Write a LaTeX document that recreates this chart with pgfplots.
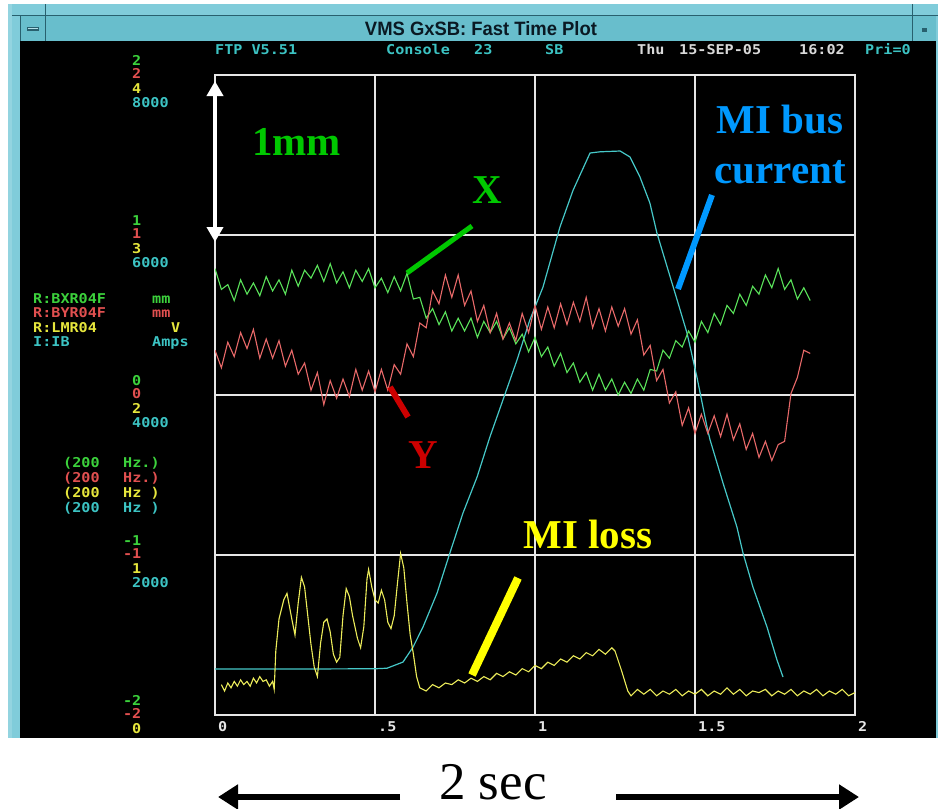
\documentclass[border=0pt]{standalone}
\usepackage{fontspec}
\usepackage{graphicx}
\usepackage{pgfplots}
\pgfplotsset{compat=1.18}
\usepackage{pgfplotstable}
\usetikzlibrary{arrows.meta}
\setmainfont{Liberation Serif}
\newfontfamily\pixfont[FakeStretch=1.12, UprightFont=* Bold]{DejaVu Sans Mono}
\newfontfamily\titlefont{Liberation Sans}

\definecolor{frame}{RGB}{128,204,218}
\definecolor{tbar}{RGB}{104,190,204}
\definecolor{tline}{RGB}{40,96,110}
\definecolor{trG}{RGB}{90,226,90}
\definecolor{trR}{RGB}{232,105,105}
\definecolor{trY}{RGB}{236,236,90}
\definecolor{trC}{RGB}{70,200,200}
\definecolor{lbG}{RGB}{60,210,60}
\definecolor{lbR}{RGB}{225,80,80}
\definecolor{lbY}{RGB}{230,230,60}
\definecolor{lbC}{RGB}{60,195,195}
\definecolor{annG}{RGB}{0,200,0}
\definecolor{annB}{RGB}{0,153,255}
\definecolor{annR}{RGB}{204,0,0}
\definecolor{annY}{RGB}{255,255,0}
\definecolor{gridc}{RGB}{230,230,230}

\newcommand{\pixsize}{\fontsize{13.5}{14}\selectfont\pixfont}

% I:IB current, Amps
\pgfplotstableread{
x y
0 575
0.25 575
0.5 578
0.5375 585
0.5875 662
0.619 850
0.65 1100
0.694 1525
0.734 2025
0.775 2525
0.819 2975
0.859 3475
0.9 3940
0.944 4440
0.984 4940
1.025 5350
1.078 6100
1.119 6560
1.172 7025
1.203 7040
1.266 7050
1.297 6975
1.328 6725
1.359 6400
1.381 6025
1.413 5600
1.444 5190
1.475 4775
1.506 4225
1.5375 3600
1.547 3440
1.5875 2900
1.631 2350
1.65 2025
1.681 1600
1.725 1100
1.756 690
1.775 475
}\tabC

% R:BXR04F horizontal position, mm
\pgfplotstableread{
x y
0.00 0.79
0.02 0.66
0.04 0.69
0.06 0.59
0.08 0.72
0.10 0.63
0.12 0.70
0.14 0.62
0.16 0.74
0.18 0.65
0.20 0.72
0.22 0.63
0.24 0.78
0.26 0.68
0.28 0.78
0.30 0.73
0.32 0.81
0.34 0.71
0.36 0.82
0.38 0.70
0.40 0.77
0.42 0.67
0.44 0.78
0.46 0.71
0.48 0.79
0.50 0.67
0.52 0.73
0.54 0.64
0.56 0.74
0.58 0.65
0.60 0.76
0.62 0.60
0.64 0.61
0.66 0.48
0.68 0.54
0.70 0.44
0.72 0.52
0.74 0.40
0.76 0.48
0.78 0.40
0.80 0.48
0.82 0.36
0.84 0.46
0.86 0.39
0.88 0.46
0.90 0.35
0.92 0.42
0.94 0.32
0.96 0.38
0.98 0.27
1.00 0.36
1.02 0.24
1.04 0.30
1.06 0.18
1.08 0.26
1.10 0.14
1.12 0.20
1.14 0.08
1.16 0.14
1.18 0.03
1.20 0.13
1.22 0.03
1.24 0.10
1.26 0.00
1.28 0.08
1.30 0.01
1.32 0.10
1.34 0.03
1.36 0.16
1.38 0.15
1.40 0.28
1.42 0.23
1.44 0.34
1.46 0.30
1.48 0.40
1.50 0.33
1.52 0.46
1.54 0.39
1.56 0.51
1.58 0.44
1.60 0.56
1.62 0.51
1.64 0.63
1.66 0.56
1.68 0.68
1.70 0.63
1.72 0.75
1.74 0.67
1.76 0.79
1.78 0.66
1.80 0.72
1.82 0.60
1.84 0.67
1.86 0.59
}\tabG

% R:BYR04F vertical position, mm
\pgfplotstableread{
x y
0.00 0.28
0.02 0.17
0.04 0.33
0.06 0.24
0.08 0.39
0.10 0.29
0.12 0.41
0.14 0.23
0.16 0.35
0.18 0.23
0.20 0.34
0.22 0.18
0.24 0.28
0.26 0.13
0.28 0.20
0.30 0.03
0.32 0.14
0.34 -0.06
0.36 0.09
0.38 -0.02
0.40 0.10
0.42 -0.01
0.44 0.16
0.46 0.03
0.48 0.15
0.50 0.02
0.52 0.16
0.54 0.03
0.56 0.19
0.58 0.13
0.60 0.32
0.62 0.24
0.64 0.45
0.66 0.42
0.68 0.65
0.70 0.57
0.72 0.75
0.74 0.61
0.76 0.75
0.78 0.56
0.80 0.65
0.82 0.46
0.84 0.56
0.86 0.39
0.88 0.51
0.90 0.35
0.92 0.45
0.94 0.34
0.96 0.51
0.98 0.39
1.00 0.56
1.02 0.41
1.04 0.55
1.06 0.42
1.08 0.57
1.10 0.44
1.12 0.58
1.14 0.46
1.16 0.61
1.18 0.42
1.20 0.54
1.22 0.40
1.24 0.55
1.26 0.43
1.28 0.54
1.30 0.38
1.32 0.47
1.34 0.25
1.36 0.31
1.38 0.09
1.40 0.16
1.42 -0.05
1.44 0.02
1.46 -0.19
1.48 -0.08
1.50 -0.24
1.52 -0.12
1.54 -0.24
1.56 -0.13
1.58 -0.26
1.60 -0.12
1.62 -0.28
1.64 -0.18
1.66 -0.34
1.68 -0.24
1.70 -0.39
1.72 -0.29
1.74 -0.41
1.76 -0.31
1.78 -0.29
1.80 0.01
1.82 0.11
1.84 0.28
1.86 0.26
}\tabR

% R:LMR04 loss monitor, V
\pgfplotstableread{
x y
0.02 0.19
0.03 0.15
0.04 0.20
0.05 0.17
0.06 0.21
0.07 0.18
0.08 0.22
0.09 0.19
0.10 0.21
0.11 0.18
0.12 0.23
0.13 0.20
0.14 0.24
0.15 0.21
0.16 0.22
0.17 0.18
0.18 0.21
0.185 0.16
0.19 0.40
0.20 0.60
0.215 0.72
0.225 0.76
0.24 0.60
0.25 0.50
0.26 0.70
0.27 0.86
0.28 0.80
0.29 0.62
0.30 0.44
0.31 0.30
0.32 0.24
0.33 0.45
0.34 0.58
0.35 0.60
0.36 0.52
0.37 0.38
0.38 0.33
0.39 0.36
0.40 0.62
0.41 0.79
0.42 0.74
0.43 0.62
0.445 0.48
0.455 0.42
0.465 0.55
0.475 0.85
0.48 0.91
0.49 0.80
0.50 0.72
0.51 0.70
0.52 0.78
0.53 0.72
0.54 0.58
0.55 0.54
0.56 0.62
0.57 0.82
0.58 1.01
0.59 0.92
0.60 0.70
0.61 0.50
0.62 0.38
0.63 0.24
0.64 0.17
0.66 0.15
0.68 0.19
0.70 0.17
0.72 0.20
0.74 0.19
0.76 0.22
0.78 0.20
0.80 0.23
0.82 0.21
0.84 0.24
0.86 0.22
0.88 0.26
0.90 0.24
0.92 0.27
0.94 0.25
0.96 0.29
0.98 0.27
1.00 0.31
1.02 0.29
1.04 0.33
1.06 0.31
1.08 0.35
1.10 0.33
1.12 0.37
1.14 0.35
1.16 0.39
1.18 0.37
1.20 0.41
1.22 0.38
1.24 0.42
1.25 0.40
1.27 0.28
1.29 0.15
1.30 0.12
1.32 0.16
1.34 0.13
1.36 0.16
1.38 0.12
1.40 0.15
1.42 0.13
1.44 0.16
1.46 0.12
1.48 0.15
1.50 0.13
1.52 0.16
1.54 0.12
1.56 0.15
1.58 0.13
1.60 0.17
1.62 0.13
1.64 0.16
1.66 0.12
1.68 0.15
1.70 0.14
1.72 0.16
1.74 0.12
1.76 0.15
1.78 0.13
1.80 0.16
1.82 0.12
1.84 0.15
1.86 0.13
1.88 0.16
1.90 0.12
1.92 0.15
1.94 0.13
1.96 0.16
1.98 0.12
2.00 0.14
}\tabY

\pgfplotsset{
  ftp/.style={
    at={(215pt,-715pt)}, anchor=south west,
    width=640pt, height=640pt, scale only axis,
    xmin=0, xmax=2, clip=true,
    tick style={draw=none},
    yticklabel style={font=\pixsize, anchor=base west, inner sep=0pt, xshift=-83pt},
  },
  hid/.style={ftp, axis line style={draw=none}, xtick=\empty},
}

\begin{document}
\begin{tikzpicture}
\begin{scope}[x=1pt,y=-1pt]
  \fill[white] (0,0) rectangle (938,809);
  \fill[frame] (8,4) rectangle (938,738);
  \fill[frame!85!white] (8,4) rectangle (12,738);
  \fill[tbar] (20,16) rectangle (936,41);
  \draw[tline, line width=1pt] (12,15.5) -- (938,15.5);
  \draw[tline, line width=1pt] (45,4) -- (45,41);
  \draw[tline, line width=1pt] (912,4) -- (912,41);
  \draw[tline, line width=1pt] (20,15.5) -- (20,41);
  \fill[tline] (27,27) rectangle (39,31);
  \fill[frame!60!white] (28,27.5) rectangle (38,29);
  \fill[tline] (922,28) rectangle (927,32);
  \fill[black] (20,41) rectangle (936,738);
  % window title
  \node[anchor=base, inner sep=0pt, text={rgb,255:red,10;green,25;blue,35}] at (481,35)
    {\resizebox{232pt}{14pt}{\titlefont\bfseries VMS GxSB: Fast Time Plot}};
  % header line
  \begin{scope}[every node/.style={anchor=base west, inner sep=0pt, font=\pixsize}]
    \node[text=lbC] at (215,54) {FTP V5.51};
    \node[text=lbC] at (386,54) {Console};
    \node[text=lbC] at (474,54) {23};
    \node[text=lbC] at (545,54) {SB};
    \node[text=white!85!black] at (637,54) {Thu};
    \node[text=white!85!black] at (679,54) {15-SEP-05};
    \node[text=white!85!black] at (799,54) {16:02};
    \node[text=lbC] at (865,54) {Pri=0};
    % channel list
    \node[text=lbG] at (33,303) {R:BXR04F};
    \node[text=lbG] at (152,303) {mm};
    \node[text=lbR] at (33,317.5) {R:BYR04F};
    \node[text=lbR] at (152,317.5) {mm};
    \node[text=lbY] at (33,332) {R:LMR04};
    \node[text=lbY] at (171,332) {V};
    \node[text=lbC] at (33,346.5) {I:IB};
    \node[text=lbC] at (152,346.5) {Amps};
    % sample rates
    \node[text=lbG] at (63,467) {(200};
    \node[text=lbG] at (123,467) {Hz.)};
    \node[text=lbR] at (63,482) {(200};
    \node[text=lbR] at (123,482) {Hz.)};
    \node[text=lbY] at (63,497) {(200};
    \node[text=lbY] at (123,497) {Hz\ )};
    \node[text=lbC] at (63,512) {(200};
    \node[text=lbC] at (123,512) {Hz\ )};
  \end{scope}
\end{scope}

% grid, time axis and bus current
\begin{axis}[ftp,
  ymin=0, ymax=8000,
  xtick={0,0.5,1,1.5,2}, xticklabels={0,.5,1,1.5,2},
  xticklabel style={font=\pixsize, text=white!90!black, anchor=base west, inner sep=0pt, xshift=3pt, yshift=-16pt},
  ytick={0,2000,4000,6000,8000}, yticklabels={,2000,4000,6000,8000},
  yticklabel style={text=lbC, yshift=-32pt},
  grid=major, major grid style={gridc, line width=1.4pt},
  axis line style={gridc, line width=1.4pt},
]
  \addplot[trC, line width=1.2pt] table[x=x, y=y] {\tabC};
\end{axis}

% horizontal position
\begin{axis}[hid, ymin=-2, ymax=2,
  ytick={-2,-1,0,1,2}, yticklabels={\llap{-}2,\llap{-}1,0,1,2},
  yticklabel style={text=lbG, yshift=10pt}]
  \addplot[trG, line width=1.1pt] table[x=x, y=y] {\tabG};
\end{axis}

% vertical position
\begin{axis}[hid, ymin=-2, ymax=2,
  ytick={-2,-1,0,1,2}, yticklabels={\llap{-}2,\llap{-}1,0,1,2},
  yticklabel style={text=lbR, yshift=-3.5pt}]
  \addplot[trR, line width=1.1pt] table[x=x, y=y] {\tabR};
\end{axis}

% loss monitor
\begin{axis}[hid, ymin=0, ymax=4,
  ytick={0,1,2,3,4}, yticklabels={0,1,2,3,4},
  yticklabel style={text=lbY, yshift=-18pt}]
  \addplot[trY, line width=1.1pt] table[x=x, y=y] {\tabY};
\end{axis}

% annotations
\begin{scope}[x=1pt,y=-1pt]
  \draw[white, line width=4pt, {Triangle[length=15pt,width=16pt]}-{Triangle[length=15pt,width=16pt]}] (215,81) -- (215,242);
  \begin{scope}[every node/.style={inner sep=0pt, font=\fontsize{41}{45}\selectfont\bfseries}]
    \node[annG, anchor=base west] at (252,155) {1mm};
    \node[annG, anchor=base] at (487,203) {X};
    \node[annB, anchor=base] at (780,133) {MI bus};
    \node[annB, anchor=base] at (780,183) {current};
    \node[annR, anchor=base] at (423,468) {Y};
    \node[annY, anchor=base] at (588,548) {MI loss};
  \end{scope}
  \draw[annG, line width=5pt] (407,273) -- (472,226);
  \draw[annB, line width=6pt] (712,195) -- (678,289);
  \draw[annR, line width=6pt] (390,387) -- (408,417);
  \draw[annY, line width=8pt] (518,578) -- (472,675);
  \node[anchor=base west, inner sep=0pt, font=\fontsize{53}{56}\selectfont] at (439,799) {2 sec};
  \draw[black, line width=6pt, -{Triangle[length=20pt,width=24pt]}] (400,797) -- (218,797);
  \draw[black, line width=6pt, -{Triangle[length=20pt,width=24pt]}] (616,797) -- (859,797);
\end{scope}
\pgfresetboundingbox
\path[use as bounding box] (0pt,0pt) rectangle (938pt,-809pt);
\end{tikzpicture}
\end{document}
